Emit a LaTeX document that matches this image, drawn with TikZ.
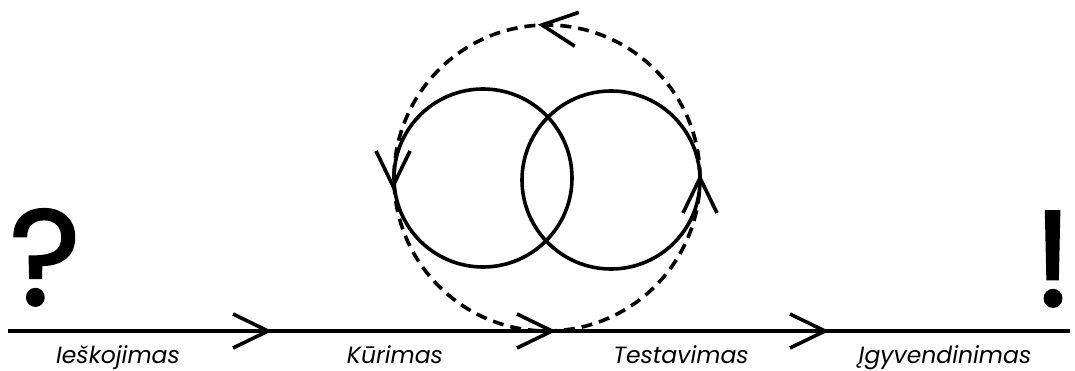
\documentclass[tikz,border=0pt]{standalone}
\usepackage{fontspec}
\setmainfont{Poppins}
\newfontfamily\signfont{Poppins}[FakeBold=1.6]
\usetikzlibrary{calc}
\tikzset{
  stroke/.style={line width=3.6pt, line cap=butt},
  dashring/.style={stroke, dash pattern=on 11pt off 7pt},
  phase/.style={font=\fontsize{23.5}{23.5}\selectfont\itshape, anchor=base, inner sep=0pt},
  bigsign/.style={font=\signfont\fontsize{136}{136}\selectfont, anchor=base, inner sep=0pt},
  chev/.pic={\draw[stroke, solid, line join=miter] (-35pt,17pt) -- (0,0) -- (-35pt,-17pt);}
}
\begin{document}
\begin{tikzpicture}[x=1pt, y=-1pt]
  \useasboundingbox (0,0) rectangle (1075,371);

  % time line
  \coordinate (start) at (8,331);
  \coordinate (finish) at (1070,331);
  \draw[stroke] (start) -- (finish);
  \pic at (268,331) {chev};
  \pic at (552,331) {chev};
  \pic at (825,331) {chev};

  % development / testing loops
  \coordinate (dev) at (483,178);
  \coordinate (test) at (611,180);
  \coordinate (cycle) at (547,178);
  \draw[stroke] (dev) circle[radius=89pt];
  \draw[stroke] (test) circle[radius=89pt];
  \draw[dashring] (cycle) circle[radius=153pt];

  % direction marks on the loops
  \pic[rotate=173] at (542,25) {chev};
  \pic[rotate=-90] at (393,186) {chev};
  \pic[rotate=90] at (700,178) {chev};

  % phase labels
  \node[phase] (search) at (118,363) {Ieškojimas};
  \node[phase] (build)  at (395,363) {Kūrimas};
  \node[phase] (check)  at (681,363) {Testavimas};
  \node[phase] (deploy) at (945,363) {Įgyvendinimas};

  % start and end signs
  \node[bigsign] (question) at (45,305) {?};
  \node[bigsign] (answer)   at (1053,306) {!};
\end{tikzpicture}
\end{document}
